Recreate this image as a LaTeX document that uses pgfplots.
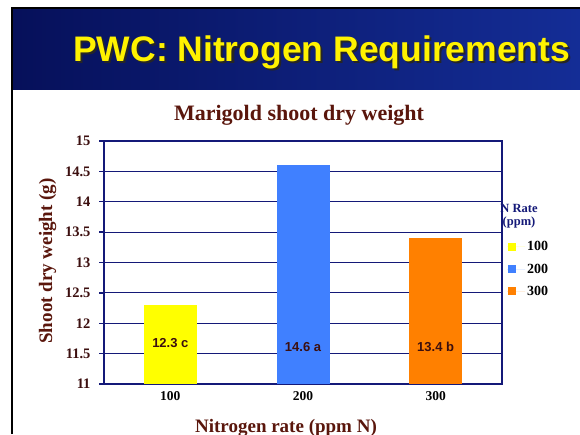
\documentclass[border=0pt]{standalone}
\usepackage{fontspec}
\setmainfont{Liberation Serif}
\newfontfamily\arial{Liberation Sans}
\usepackage{pgfplots}
\pgfplotsset{compat=1.18}
\definecolor{navy}{RGB}{20,25,120}
\definecolor{dbrown}{RGB}{90,22,12}
\definecolor{lbl}{RGB}{60,15,15}
\definecolor{hdrA}{RGB}{6,16,90}
\definecolor{hdrB}{RGB}{20,45,150}
\definecolor{barY}{RGB}{255,255,0}
\definecolor{barB}{RGB}{64,128,255}
\definecolor{barO}{RGB}{255,128,0}
\begin{document}
\begin{tikzpicture}[x=1pt,y=1pt]
\useasboundingbox (0,0) rectangle (580,434);
\fill[white] (0,0) rectangle (580,434);
\shade[left color=hdrA, right color=hdrB] (12,344) rectangle (580,426);
\draw[black, line width=2pt] (12,0) -- (12,426) -- (580,426);
\node[anchor=base west, inner sep=0pt, text=black!85, font=\arial\bfseries\fontsize{35.5}{40}\selectfont] at (75,370) {PWC: Nitrogen Requirements};
\node[anchor=base west, inner sep=0pt, text=yellow, font=\arial\bfseries\fontsize{35.5}{40}\selectfont] at (73,372) {PWC: Nitrogen Requirements};
\node[anchor=base, inner sep=0pt, text=dbrown, font=\bfseries\fontsize{22}{24}\selectfont] at (299,313) {Marigold shoot dry weight};
\node[anchor=base, inner sep=0pt, text=dbrown, font=\bfseries\fontsize{19}{20}\selectfont] at (286,1.5) {Nitrogen rate (ppm N)};
\node[anchor=base, inner sep=0pt, rotate=90, text=dbrown, font=\bfseries\fontsize{19}{20}\selectfont] at (52,173) {Shoot dry weight (g)};
\begin{axis}[
  at={(104pt,50pt)}, anchor=south west, scale only axis,
  width=398pt, height=243pt,
  xmin=0.5, xmax=3.5, ymin=11, ymax=15,
  ytick={11,11.5,12,12.5,13,13.5,14,14.5,15},
  xtick={1,2,3}, xticklabels={100,200,300},
  ybar, bar width=53pt, bar shift=0pt,
  axis line style={navy, line width=1.3pt},
  ymajorgrids, grid style={navy, line width=1pt},
  major tick length=5pt,
  xtick style={draw=none},
  ytick style={navy, line width=1.3pt},
  tick align=outside, ytick pos=left,
  /pgf/number format/assume math mode=true,
  yticklabel style={font=\bfseries\fontsize{14.5}{15}\selectfont, text=lbl, xshift=-5pt},
  xticklabel style={font=\bfseries\fontsize{13.5}{14}\selectfont, text=black, yshift=1pt},
  legend style={at={(1.01,0.6)}, anchor=north west, draw=none, fill=none,
    font=\bfseries\fontsize{14}{15}\selectfont, row sep=7.5pt, inner sep=1pt},
  legend cell align=left,
  legend image code/.code={\fill[#1, draw=none] (1pt,-4pt) rectangle (9pt,4pt); \path (0pt,0pt) -- (18pt,0pt);},
]
\addplot[fill=barY, draw=none] coordinates {(1,12.3)};
\addplot[fill=barB, draw=none] coordinates {(2,14.6)};
\addplot[fill=barO, draw=none] coordinates {(3,13.4)};
\legend{100,200,300}
\node[text=lbl, font=\arial\bfseries\fontsize{13}{14}\selectfont] at (axis cs:1,11.675) {12.3 c};
\node[text=lbl, font=\arial\bfseries\fontsize{13}{14}\selectfont] at (axis cs:2,11.61) {14.6 a};
\node[text=lbl, font=\arial\bfseries\fontsize{13}{14}\selectfont] at (axis cs:3,11.61) {13.4 b};
\end{axis}
\node[align=center, inner sep=0pt, text=navy, font=\bfseries\fontsize{12.5}{12.5}\selectfont] at (519,218) {N Rate\\(ppm)};
\end{tikzpicture}
\end{document}
